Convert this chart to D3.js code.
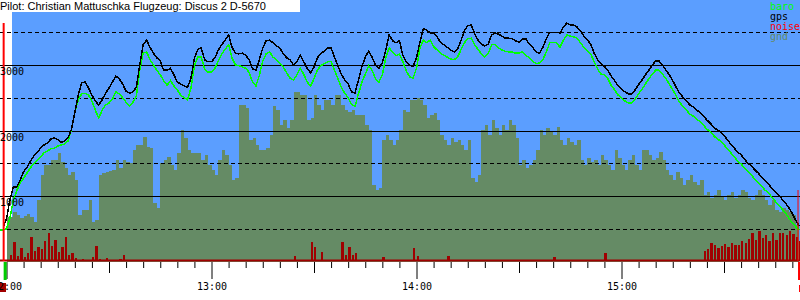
<!DOCTYPE html>
<html>
<head>
<meta charset="utf-8">
<script src="https://d3js.org/d3.v7.min.js"></script>
<style>
  body { margin: 0; background: #fff; }
  svg { display: block; }
  .mono { font-family: "DejaVu Sans Mono", monospace; font-size: 10px; }
</style>
</head>
<body>
<svg id="chart" width="800" height="300"></svg>
<script>
// ******************** Data ************************
var title = "Pilot: Christian Mattuschka Flugzeug: Discus 2 D-5670";
var firstSample = "11:58"; // logger writes one sample per minute

// altitude from gps (m), starting 11:58
var gps = [
  null, 520, 650, 940, 1140, 1140, 1240, 1370, 1440, 1530,
  1610, 1670, 1730, 1780, 1810, 1870, 1890, 1860, 1820, 1840,
  1890, 2010, 2280, 2540, 2730, 2740, 2650, 2540, 2450, 2390,
  2470, 2570, 2650, 2740, 2830, 2790, 2710, 2600, 2570, 2590,
  2660, 3000, 3310, 3380, 3270, 3180, 3110, 3060, 2920, 2920,
  2950, 2850, 2740, 2710, 2680, 2660, 2800, 3110, 3240, 3260,
  3080, 3050, 3050, 3110, 3230, 3310, 3380, 3460, 3270, 3180,
  3170, 3180, 3150, 3080, 2940, 2920, 3080, 3260, 3370, 3380,
  3340, 3290, 3260, 3170, 3110, 3080, 3000, 3050, 3150, 3050,
  2950, 2880, 2970, 3110, 3180, 3210, 3260, 3260, 3120, 2990,
  2860, 2770, 2710, 2590, 2570, 2770, 2970, 3120, 3210, 3120,
  3000, 2950, 3030, 3230, 3460, 3370, 3340, 3370, 3150, 3050,
  3000, 2980, 3110, 3350, 3560, 3530, 3490, 3490, 3430, 3350,
  3310, 3270, 3230, 3200, 3240, 3370, 3520, 3600, 3610, 3480,
  3380, 3320, 3290, 3320, 3460, 3490, 3470, 3440, 3410, 3410,
  3400, 3370, 3350, 3400, 3400, 3320, 3270, 3200, 3180, 3270,
  3400, 3500, 3500, 3500, 3490, 3580, 3640, 3610, 3610, 3580,
  3520, 3440, 3380, 3320, 3180, 3080, 3020, 2980, 2920, 2830,
  2760, 2680, 2630, 2590, 2560, 2560, 2620, 2700, 2770, 2850,
  2920, 3000, 3060, 3060, 3000, 2920, 2850, 2760, 2660, 2570,
  2510, 2450, 2390, 2360, 2310, 2280, 2220, 2160, 2110, 2050,
  2010, 1980, 1920, 1860, 1790, 1730, 1670, 1630, 1560, 1500,
  1460, 1400, 1350, 1290, 1230, 1180, 1120, 1060, 1020, 950,
  890, 820, 730, 630, 540
];

// barometric altitude (m)
var baro = [
  480, 480, 500, 660, 940, 1080, 1200, 1270, 1350, 1430,
  1500, 1550, 1600, 1660, 1690, 1720, 1730, 1760, 1780, 1790,
  1840, 2010, 2270, 2470, 2560, 2570, 2540, 2450, 2310, 2190,
  2310, 2390, 2420, 2480, 2590, 2560, 2500, 2430, 2370, 2430,
  2530, 2920, 3180, 3200, 3080, 3000, 2920, 2850, 2760, 2690,
  2760, 2680, 2620, 2540, 2500, 2470, 2650, 2990, 3120, 3120,
  2940, 2890, 2890, 2950, 3060, 3170, 3240, 3310, 3110, 3000,
  2990, 2970, 2950, 2890, 2740, 2680, 2840, 3060, 3170, 3200,
  3120, 3080, 3030, 2970, 2880, 2800, 2770, 2850, 2950, 2860,
  2740, 2680, 2790, 2920, 2990, 3020, 3050, 3050, 2920, 2790,
  2660, 2570, 2500, 2400, 2370, 2560, 2730, 2860, 2990, 2920,
  2790, 2740, 2850, 3110, 3260, 3200, 3140, 3170, 3050, 2910,
  2820, 2800, 2950, 3260, 3380, 3340, 3380, 3280, 3230, 3180,
  3150, 3120, 3090, 3080, 3120, 3230, 3340, 3400, 3410, 3310,
  3240, 3170, 3120, 3180, 3310, 3310, 3260, 3230, 3210, 3200,
  3200, 3180, 3180, 3200, 3150, 3110, 3060, 3020, 3030, 3080,
  3200, 3340, 3340, 3340, 3270, 3380, 3460, 3440, 3430, 3410,
  3340, 3270, 3210, 3170, 3050, 2940, 2860, 2850, 2790, 2690,
  2620, 2540, 2500, 2450, 2420, 2420, 2480, 2560, 2630, 2710,
  2790, 2860, 2920, 2920, 2860, 2790, 2710, 2620, 2530, 2430,
  2370, 2310, 2250, 2220, 2170, 2140, 2080, 2020, 1980, 1920,
  1870, 1840, 1780, 1720, 1660, 1600, 1530, 1490, 1430, 1370,
  1320, 1260, 1210, 1150, 1090, 1050, 980, 920, 860, 800,
  740, 660, 590, 530, 480
];

// ground elevation under the track (m)
var gnd = [
  null, null, 680, 680, 760, 710, 660, 690, 730, 680,
  600, 940, 1320, 1470, 1470, 1550, 1550, 1660, 1520, 1430,
  1320, 1370, 1240, 710, 790, 790, 940, 600, 630, 1320,
  1350, 1370, 1380, 1400, 1550, 1430, 1550, 1520, 1500, 1700,
  1780, 1780, 1900, 1750, 1730, 890, 820, 1500, 1550, 1600,
  1470, 1400, 1660, 2010, 1890, 1700, 1660, 1660, 1660, 1550,
  1630, 1470, 1400, 1320, 1550, 1700, 1630, 1470, 1240, 1270,
  2390, 2390, 2340, 1850, 1890, 1780, 1700, 1700, 1730, 1930,
  2370, 2310, 2080, 2160, 2040, 2160, 2590, 2590, 2540, 2540,
  2160, 2190, 2540, 2390, 2310, 2470, 2470, 2390, 2540, 2540,
  2390, 2310, 2280, 2310, 2240, 2240, 2240, 2080, 2010, 1170,
  1090, 1120, 1850, 1930, 1850, 1780, 1850, 2010, 2310, 2280,
  2470, 2470, 2500, 2470, 2390, 2190, 2240, 2270, 2160, 1930,
  1850, 1780, 1890, 1820, 1850, 1780, 1700, 1850, 1270, 1210,
  1320, 2010, 2080, 1930, 2160, 2040, 1930, 2080, 2010, 2160,
  2080, 1890, 1470, 1550, 1430, 1470, 1550, 1700, 2010, 1930,
  2040, 1980, 1930, 2050, 1850, 1780, 1890, 1820, 1780, 1850,
  1550, 1470, 1580, 1520, 1550, 1470, 1630, 1550, 1470, 1400,
  1700, 1580, 1470, 1400, 1550, 1630, 1470, 1400, 1700, 1700,
  1630, 1550, 1580, 1670, 1550, 1400, 1320, 1240, 1370, 1270,
  1170, 1240, 1320, 1210, 1170, 1240, 1020, 1060, 970, 1020,
  1090, 1000, 940, 1020, 1060, 970, 1020, 1090, 1060, 970,
  940, 1020, 1090, 1020, 940, 860, 940, 790, 760, 820,
  790, 760, 710, 560, 480
];

// engine noise level (0..1000)
var noise = [
  0, 0, 0, 60, 190, 50, 130, 40, 80, 240,
  100, 140, 120, 200, 280, 150, 210, 90, 140, 240,
  60, 80, 30, 10, 20, 0, 10, 40, 150, 20,
  0, 30, 0, 10, 0, 20, 60, 0, 10, 0,
  0, 0, 10, 0, 0, 0, 0, 10, 0, 0,
  0, 0, 0, 0, 0, 10, 0, 0, 0, 0,
  0, 0, 0, 0, 0, 0, 0, 0, 0, 0,
  0, 0, 0, 0, 0, 0, 0, 0, 0, 0,
  0, 0, 0, 0, 0, 0, 50, 0, 0, 0,
  0, 190, 140, 0, 90, 0, 0, 0, 0, 0,
  190, 60, 140, 60, 80, 0, 0, 0, 0, 0,
  0, 0, 40, 0, 0, 0, 0, 0, 0, 0,
  0, 130, 50, 0, 0, 0, 0, 0, 0, 0,
  0, 50, 0, 0, 0, 0, 0, 0, 0, 0,
  0, 0, 0, 0, 0, 0, 0, 0, 0, 0,
  0, 0, 0, 0, 0, 0, 0, 0, 0, 0,
  0, 0, 40, 0, 0, 0, 0, 0, 0, 0,
  0, 0, 0, 0, 0, 0, 0, 80, 0, 0,
  0, 0, 0, 0, 0, 0, 0, 0, 0, 0,
  0, 0, 0, 0, 0, 0, 0, 0, 0, 0,
  0, 0, 0, 0, 0, 0, 100, 120, 180, 160,
  130, 150, 170, 140, 180, 160, 160, 200, 180, 220,
  280, 210, 300, 230, 260, 200, 280, 210, 280, 280,
  260, 300, 270, 240, 200
];

var altSolid = [1000, 2000, 3000];
var altDashed = [500, 1500, 2500, 3500];
var legendNames = ["baro", "gps", "noise", "gnd"];
var legendColors = ["#00ff00", "#000000", "#ff0000", "#658b65"];
var takeoff = "11:59:10";
var landing = "15:51:40";

// ******************** Scales ************************
var parseHM = d3.timeParse("%H:%M");
var parseHMS = d3.timeParse("%H:%M:%S");
var t0 = parseHM(firstSample);
function sampleTime(i) { return d3.timeMinute.offset(t0, i); }

var x = d3.scaleTime()
    .domain([parseHM("12:00"), parseHM("15:00")])
    .range([6.5, 621.5]);
var y = d3.scaleLinear().domain([0, 3500]).range([261.5, 32.25]);
var yNoise = d3.scaleLinear().domain([0, 1000]).range([261, 161]);

var svg = d3.select("#chart");

// background
svg.append("rect").attr("x", 12).attr("y", 0).attr("width", 788).attr("height", 261)
    .attr("fill", "#5b9eff");

// ******************** Ground ************************
var gndArea = d3.area()
    .defined(function (d) { return d != null; })
    .curve(d3.curveStepAfter)
    .x(function (d, i) { return x(sampleTime(i)); })
    .y0(y(0))
    .y1(function (d) { return y(d); });
svg.append("path").datum(gnd)
    .attr("d", gndArea)
    .attr("fill", "#658b65")
    .attr("shape-rendering", "crispEdges");

// ******************** Noise ************************
var gNoise = svg.append("g").attr("shape-rendering", "crispEdges");
noise.forEach(function (d, i) {
    if (!d) return;
    var x0 = x(sampleTime(i)), x1 = x(sampleTime(i + 1));
    gNoise.append("rect")
        .attr("x", x0)
        .attr("width", Math.max(1, (x1 - x0) * 0.7))
        .attr("y", yNoise(d))
        .attr("height", yNoise(0) - yNoise(d))
        .attr("fill", "#a00000");
});

// ******************** Grid ************************
var gGrid = svg.append("g").attr("shape-rendering", "crispEdges");
gGrid.selectAll("line.solid")
    .data(altSolid).enter().append("line")
    .attr("class", "solid")
    .attr("x1", 0).attr("x2", 800)
    .attr("y1", function (d) { return Math.round(y(d)) + 0.5; })
    .attr("y2", function (d) { return Math.round(y(d)) + 0.5; })
    .attr("stroke", "#000");
gGrid.selectAll("line.dashed")
    .data(altDashed).enter().append("line")
    .attr("class", "dashed")
    .attr("x1", 0).attr("x2", 800)
    .attr("y1", function (d) { return Math.round(y(d)) + 0.5; })
    .attr("y2", function (d) { return Math.round(y(d)) + 0.5; })
    .attr("stroke", "#000")
    .attr("stroke-dasharray", "4,3");

// ******************** Altitude lines ************************
var altLine = d3.line()
    .defined(function (d) { return d != null; })
    .x(function (d, i) { return x(sampleTime(i)); })
    .y(function (d) { return y(d); });

svg.append("path").datum(baro)
    .attr("d", altLine)
    .attr("fill", "none")
    .attr("stroke", "#00ff00")
    .attr("stroke-width", 1.5)
    .attr("shape-rendering", "crispEdges");

svg.append("path").datum(gps)
    .attr("d", altLine)
    .attr("fill", "none")
    .attr("stroke", "#000")
    .attr("stroke-width", 1.5)
    .attr("shape-rendering", "crispEdges");

// ******************** Time axis ************************
svg.append("line")
    .attr("x1", 0).attr("x2", 800).attr("y1", 260.5).attr("y2", 260.5)
    .attr("stroke", "#a00000").attr("stroke-width", 2);

// start / end blocks under the axis
var xTake = x(parseHMS(takeoff)), xLand = x(parseHMS(landing));
svg.append("rect").attr("x", 0).attr("y", 283).attr("width", 6).attr("height", 9).attr("fill", "#a00000");

var ticks = d3.timeMinute.every(5).range(x.invert(0), x.invert(800));
var gAxis = svg.append("g")
    .attr("transform", "translate(0,261)")
    .call(d3.axisBottom(x)
        .tickValues(ticks)
        .tickFormat(function (d) { return d.getMinutes() === 0 ? d3.timeFormat("%H:%M")(d) : ""; }));
gAxis.select(".domain").remove();
gAxis.selectAll(".tick line")
    .attr("y1", 1)
    .attr("y2", function (d) { return d.getMinutes() === 0 ? 18 : (d.getMinutes() === 30 ? 12 : 7); })
    .attr("stroke", "#000");
gAxis.selectAll(".tick text")
    .attr("y", 22)
    .attr("class", "mono")
    .attr("font-family", null).attr("font-size", null)
    .attr("fill", "#000");

// ******************** Takeoff / landing markers ************************
svg.append("line").attr("x1", xTake).attr("x2", xTake).attr("y1", 23).attr("y2", 261)
    .attr("stroke", "#ff0000").attr("stroke-width", 2);
svg.append("rect").attr("x", xTake).attr("y", 262).attr("width", 3).attr("height", 18).attr("fill", "#00cc00");
svg.append("line").attr("x1", xLand).attr("x2", xLand).attr("y1", 190).attr("y2", 261)
    .attr("stroke", "#ff0000").attr("stroke-width", 1);
svg.append("rect").attr("x", xLand).attr("y", 262).attr("width", 3).attr("height", 18).attr("fill", "#ff0000");
svg.append("rect").attr("x", xLand + 1).attr("y", 285).attr("width", 2).attr("height", 7).attr("fill", "#ff0000");

// ******************** Labels ************************
svg.append("g").selectAll("text")
    .data(altSolid).enter().append("text")
    .attr("class", "mono")
    .attr("x", 0)
    .attr("y", function (d) { return y(d) + 10; })
    .text(function (d) { return d; });

svg.append("rect").attr("x", 0).attr("y", 0).attr("width", 300).attr("height", 12).attr("fill", "#fff");
svg.append("text")
    .attr("x", 0).attr("y", 10)
    .attr("font-family", "Liberation Sans, Arial, sans-serif")
    .attr("font-size", 11)
    .text(title);

svg.append("g").selectAll("text")
    .data(legendNames).enter().append("text")
    .attr("class", "mono")
    .attr("x", 770)
    .attr("y", function (d, i) { return 10 + i * 10; })
    .attr("fill", function (d, i) { return legendColors[i]; })
    .text(function (d) { return d; });
</script>
</body>
</html>
